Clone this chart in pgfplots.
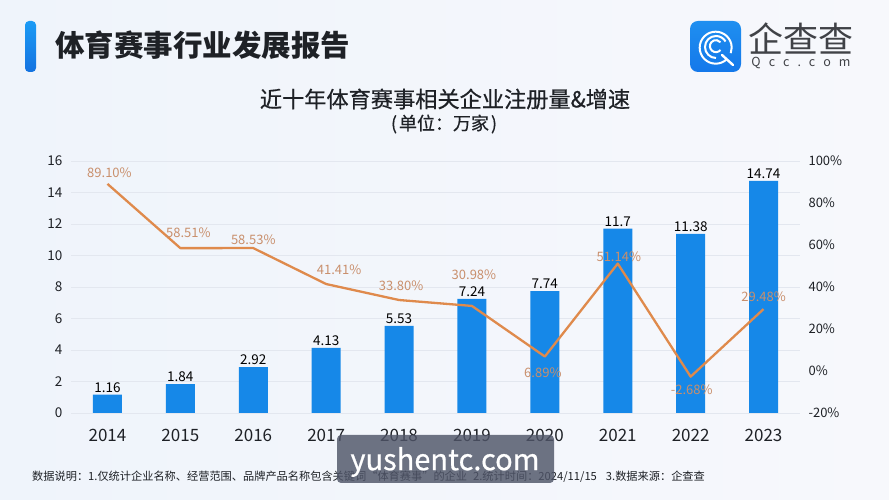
\documentclass[border=0pt]{standalone}
\usepackage{fontspec}
\usepackage{pgfplots}
\pgfplotsset{compat=1.18}
\usepackage{pgfplotstable}
\setmainfont{Noto Sans CJK SC}
\newfontfamily\medf[FakeBold=0.6]{Noto Sans CJK SC}
\definecolor{barblue}{HTML}{1688E8}
\definecolor{lineor}{HTML}{DF8A4C}
\definecolor{labor}{HTML}{C98F6C}
\definecolor{gridc}{HTML}{E3E7EF}
\definecolor{txt}{HTML}{1E2126}
\definecolor{bgl}{HTML}{EFF4FB}
\definecolor{bgr}{HTML}{F7F8FC}
\definecolor{acct}{HTML}{1B9BF5}
\definecolor{accb}{HTML}{1472E0}
\definecolor{logot}{HTML}{1F8FF0}
\definecolor{logob}{HTML}{1478EA}
\definecolor{wm}{HTML}{4F5568}
\pgfplotstableread{
x y
0 1.16
1 1.84
2 2.92
3 4.13
4 5.53
5 7.24
6 7.74
7 11.7
8 11.38
9 14.74
}\barsdata
\pgfplotstableread{
x y dx dy
0 89.10 2 11
1 58.51 8 15
2 58.53 0 8
3 41.41 13 14
4 33.80 2 14
5 30.98 2 31
6 6.89 -2 -16
7 51.14 1 7
8 -2.68 1 -13
9 29.48 0 12
}\ratedata
\begin{document}
\begin{tikzpicture}[x=1pt,y=1pt]
\useasboundingbox (0,0) rectangle (889,500);
% background
\shade[left color=bgl, right color=bgr] (0,0) rectangle (889,500);
\begin{axis}[
  at={(71pt,87pt)},anchor=south west,
  scale only axis,width=729pt,height=252pt,
  xmin=-0.5,xmax=9.5,ymin=0,ymax=16,
  axis x line=bottom,axis y line=left,
  axis line style={draw=none,-},
  xtick={0,...,9},
  xticklabels={2014,2015,2016,2017,2018,2019,2020,2021,2022,2023},
  ytick={0,2,...,16},
  major tick length=0pt,
  ymajorgrids,
  grid style={gridc,line width=0.8pt},
  /pgf/number format/assume math mode=true,
  tick label style={text=txt},
  xticklabel style={font=\fontsize{17}{18}\selectfont,yshift=-13pt},
  yticklabel style={font=\fontsize{13.5}{14}\selectfont,xshift=-5pt},
  clip=false,
]
\addplot[ybar,bar width=29pt,fill=barblue,draw=none,
  nodes near coords={\pgfmathprintnumber[fixed,precision=2]{\pgfplotspointmeta}},
  every node near coord/.append style={font=\fontsize{13.5}{14}\selectfont,text=black,inner sep=0pt,yshift=7pt,anchor=center}
] table[x=x,y=y] {\barsdata};
\end{axis}
\begin{axis}[
  at={(71pt,87pt)},anchor=south west,
  scale only axis,width=729pt,height=252pt,
  xmin=-0.5,xmax=9.5,ymin=-20,ymax=100,
  axis x line=none,axis y line=right,
  axis line style={draw=none,-},
  ytick={-20,0,...,100},
  major tick length=0pt,
  /pgf/number format/assume math mode=true,
  yticklabel={\pgfmathprintnumber{\tick}\%},
  tick label style={text=txt},
  yticklabel style={font=\fontsize{13}{14}\selectfont,xshift=5pt},
  clip=false,
]
\addplot[lineor,line width=2.3pt,line join=round,mark=none,
  visualization depends on={\thisrow{dx}\as\dxv},
  visualization depends on={\thisrow{dy}\as\dyv},
  nodes near coords={\pgfmathprintnumber[fixed,fixed zerofill,precision=2,assume math mode=true]{\pgfplotspointmeta}\%},
  every node near coord/.append style={font=\fontsize{13}{14}\selectfont,text=labor,inner sep=0pt,anchor=center,xshift=\dxv pt,yshift=\dyv pt}
] table[x=x,y=y] {\ratedata};
\end{axis}
% header
\shade[top color=acct,bottom color=accb,rounded corners=4pt] (25,428) rectangle (36,479);
\node[anchor=west,inner sep=0pt,text=txt] at (55,455) {\fontsize{29.5}{30}\selectfont\bfseries 体育赛事行业发展报告};
% logo
\shade[top color=logot,bottom color=logob,rounded corners=8pt] (690,428) rectangle (741,479);
\draw[white,line width=2pt] (727,441) arc (-45:-360:16) arc (0:-20:16);
\draw[white,line width=2pt] (716,442) arc (-90:-330:11);
\draw[white,line width=2pt] (720.5,450) arc (-40:-320:6);
\draw[white,line width=2.4pt,line cap=round] (722,445) -- (733,435);
\node[anchor=center,inner sep=0pt,text=txt!85] at (801,461) {\fontsize{35}{35}\selectfont 企查查};
\node[anchor=center,inner sep=0pt,text=txt!85] at (801,437) {\fontsize{12.5}{13}\selectfont Q\hspace{8pt}c\hspace{8pt}c\hspace{8pt}.\hspace{8pt}c\hspace{8pt}o\hspace{8pt}m};
% titles
\node[anchor=center,inner sep=0pt,text=txt] at (445,401) {\fontsize{22.2}{23}\medf 近十年体育赛事相关企业注册量\&增速};
\node[anchor=center,inner sep=0pt,text=txt] at (444,376) {\fontsize{18}{19}\medf (\hspace{2pt}单位：万家\hspace{2pt})};
% footer
\node[anchor=west,inner sep=0pt,text=txt] at (32,23) {\fontsize{11.2}{12}\selectfont 数据说明：1.仅统计企业名称、经营范围、品牌产品名称包含关键词“体育赛事”的企业\hspace{6pt}2.统计时间：2024/11/15\hspace{9pt}3.数据来源：企查查};
% watermark
\fill[fill=wm,fill opacity=0.82,rounded corners=4pt] (337,17) rectangle (554,65);
\node[anchor=center,inner sep=0pt,text=white] at (445,38) {\fontsize{29}{30}\medf yushentc.com};
\end{tikzpicture}
\end{document}
